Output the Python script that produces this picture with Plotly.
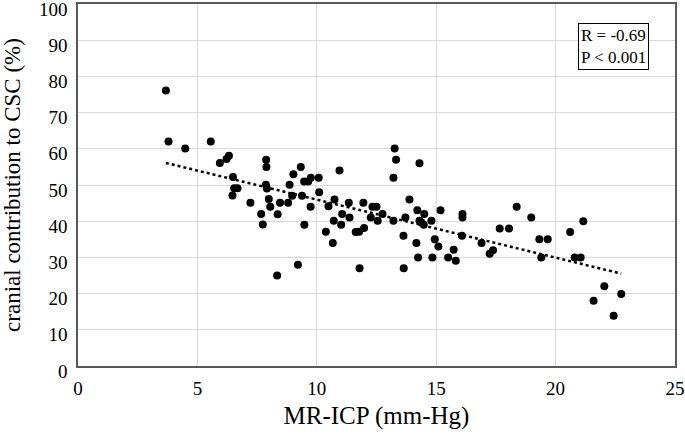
import numpy as np
import plotly.graph_objects as go

mr_icp = [3.68, 3.79, 4.49, 5.56, 5.94, 6.22, 6.32, 6.49, 6.54, 6.68, 6.47, 7.22, 7.67, 7.74,
          7.88, 7.89, 7.87, 7.91, 7.99, 8.05, 8.36, 8.46, 8.80, 8.86, 8.97, 9.02, 9.33, 9.47,
          9.64, 9.75, 9.38, 9.74, 9.48, 10.08, 10.10, 8.34, 9.21, 11.79, 13.64, 14.24, 14.84,
          15.50, 10.95, 10.49, 10.74, 10.71, 10.38, 10.67, 11.06, 11.02, 11.34, 11.37, 11.63,
          11.77, 11.98, 11.95, 12.26, 12.33, 12.50, 12.55, 12.75, 13.26, 13.32, 13.21, 13.21,
          13.71, 13.88, 13.63, 14.30, 14.21, 14.50, 14.30, 14.39, 14.48, 14.80, 14.17, 14.94,
          15.09, 15.18, 15.73, 15.82, 16.10, 16.10, 16.08, 16.90, 17.24, 17.38, 17.66, 18.05,
          18.37, 18.98, 19.32, 19.67, 19.40, 20.61, 21.16, 20.80, 21.05, 22.04, 22.75, 21.59,
          22.43]
csc = [76.1, 62.0, 60.1, 62.0, 56.1, 57.2, 58.1, 52.2, 49.1, 49.1, 47.1, 45.1, 42.0, 39.1,
       57.0, 55.0, 50.1, 49.0, 46.1, 44.0, 41.9, 45.1, 45.1, 50.1, 47.0, 53.0, 55.0, 51.0,
       51.0, 52.0, 47.0, 44.0, 39.0, 52.0, 48.0, 25.0, 28.0, 27.0, 27.0, 30.0, 30.0,
       30.0, 54.0, 44.1, 46.0, 40.1, 37.1, 34.0, 42.0, 39.0, 45.1, 41.0, 37.0,
       37.1, 38.1, 45.1, 41.0, 44.0, 44.0, 40.1, 42.0, 60.1, 57.0, 52.0, 40.1,
       41.0, 46.0, 36.0, 56.0, 43.0, 42.0, 40.1, 39.6, 39.0, 40.1, 34.0, 35.0,
       33.0, 43.0, 32.1, 29.1, 42.0, 41.0, 36.0, 34.0, 31.0, 32.0, 38.0, 38.0,
       44.0, 41.0, 35.0, 35.0, 30.0, 37.0, 40.0, 30.0, 30.0, 22.0, 19.9, 18.0,
       13.9]

x_ticks = [0, 5, 10, 15, 20, 25]
y_ticks = [0, 10, 20, 30, 40, 50, 60, 70, 80, 90, 100]
stats_text = "R = -0.69<br>P < 0.001"

x = np.array(mr_icp)
y = np.array(csc)
slope, intercept = np.polyfit(x, y, 1)
xl = np.array([x.min(), x.max()])
yl = slope * xl + intercept

font_family = "Liberation Serif, Times New Roman, serif"

fig = go.Figure()
fig.add_trace(go.Scatter(x=xl, y=yl, mode="lines",
                         line=dict(color="black", width=2.5, dash="dot"),
                         hoverinfo="skip", showlegend=False))
fig.add_trace(go.Scatter(x=mr_icp, y=csc, mode="markers",
                         marker=dict(color="black", size=8),
                         showlegend=False))

axis_common = dict(showgrid=True, gridcolor="#d9d9d9", gridwidth=1,
                   showline=True, linecolor="#595959", linewidth=1.5, mirror=True,
                   ticks="", zeroline=False, automargin=False, ticklabeloverflow="allow",
                   tickfont=dict(family=font_family, size=19, color="black"))

fig.update_xaxes(range=[0, 25], tickvals=x_ticks, ticktext=[str(v) for v in x_ticks],
                 title=dict(text="MR-ICP (mm-Hg)", font=dict(family=font_family, size=25, color="black"),
                            standoff=9),
                 ticklabelstandoff=4, **axis_common)
fig.update_yaxes(range=[0, 100], tickvals=y_ticks, ticktext=[str(v) for v in y_ticks],
                 title=dict(text="cranial contribution to CSC (%)",
                            font=dict(family=font_family, size=23, color="black"), standoff=18),
                 ticklabelstandoff=5, ticklabelshift=5, **axis_common)

fig.add_annotation(xref="paper", yref="paper", x=0.838, y=0.948, xanchor="left", yanchor="top",
                   text=stats_text, showarrow=False, align="left",
                   font=dict(family=font_family, size=17, color="black"),
                   bordercolor="black", borderwidth=1, borderpad=2, bgcolor="white")

fig.update_layout(width=685, height=437,
                  margin=dict(l=78, r=10, t=4, b=71),
                  plot_bgcolor="white", paper_bgcolor="white",
                  font=dict(family=font_family, color="black"))

fig.write_html("out.html", config={"displayModeBar": False},
               post_script="document.body.style.margin='0';document.body.style.padding='0';"
                           "document.body.style.overflow='hidden';")
